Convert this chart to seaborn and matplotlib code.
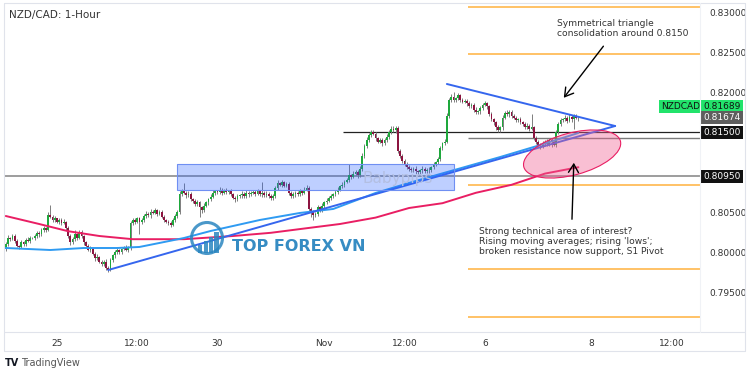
import numpy as np
import pandas as pd
import matplotlib
matplotlib.use("Agg")
import matplotlib.pyplot as plt
import matplotlib.patches as mpatches
import matplotlib.transforms as mtransforms
from matplotlib.lines import Line2D
import seaborn as sns

# NZD/CAD hourly closes, in 1/10000
closes = [
    8010, 8018, 8016, 8020, 8014, 8008, 8006, 8012, 8010, 8015, 8014, 8018, 8017, 8020, 8024, 8022, 8027, 8030, 8028, 8046,
    8044, 8040, 8042, 8038, 8040, 8036, 8038, 8030, 8020, 8012, 8016, 8022, 8018, 8025, 8020, 8012, 8008, 8003, 8004, 7998,
    7992, 7994, 7988, 7985, 7988, 7980, 7978, 7990, 7996, 8000, 8002, 8000, 8004, 8006, 8003, 8005, 8036, 8040, 8038, 8042,
    8037, 8040, 8045, 8048, 8046, 8050, 8049, 8052, 8048, 8050, 8044, 8040, 8038, 8036, 8034, 8040, 8045, 8050, 8072, 8076,
    8074, 8071, 8073, 8066, 8064, 8060, 8062, 8056, 8052, 8058, 8062, 8066, 8069, 8074, 8076, 8075, 8078, 8074, 8077, 8075,
    8076, 8072, 8068, 8066, 8070, 8071, 8073, 8070, 8074, 8072, 8074, 8075, 8073, 8076, 8072, 8074, 8071, 8073, 8070, 8067,
    8070, 8080, 8086, 8084, 8087, 8083, 8085, 8074, 8070, 8072, 8074, 8072, 8076, 8074, 8078, 8080, 8054, 8050, 8046, 8048,
    8056, 8052, 8058, 8062, 8064, 8068, 8070, 8072, 8075, 8078, 8082, 8084, 8088, 8090, 8096, 8094, 8098, 8100, 8096, 8104,
    8120, 8132, 8140, 8146, 8150, 8148, 8142, 8138, 8140, 8136, 8140, 8144, 8150, 8154, 8152, 8155, 8126, 8120, 8114, 8110,
    8106, 8104, 8102, 8104, 8101, 8100, 8102, 8104, 8101, 8103, 8102, 8106, 8110, 8112, 8116, 8130, 8136, 8138, 8170, 8190,
    8194, 8190, 8192, 8196, 8190, 8188, 8189, 8186, 8182, 8184, 8178, 8175, 8176, 8180, 8184, 8186, 8182, 8172, 8166, 8162,
    8156, 8152, 8156, 8168, 8174, 8172, 8175, 8170, 8168, 8165, 8166, 8162, 8160, 8156, 8158, 8154, 8156, 8142, 8138, 8134,
    8132, 8136, 8138, 8135, 8140, 8138, 8134, 8150, 8160, 8165, 8166, 8168, 8164, 8169, 8166, 8170, 8168, 8167,
]
first_open = 8004

# wick lengths above / below the body, in pips
wick_up = [
    2, 3, 1, 2, 3, 2, 1, 3, 2, 2, 4, 2, 1, 3, 2, 2, 3, 2, 1, 4,
    13, 2, 3, 1, 2, 2, 3, 1, 2, 2, 3, 5, 2, 3, 2, 1, 2, 2, 3, 2,
    2, 3, 1, 2, 2, 3, 2, 3, 2, 2, 3, 2, 1, 2, 3, 2, 3, 2, 3, 2,
    2, 3, 2, 3, 2, 4, 2, 3, 2, 3, 2, 2, 1, 2, 3, 2, 3, 2, 4, 3,
    10, 2, 3, 2, 1, 2, 3, 2, 2, 3, 2, 2, 3, 3, 2, 2, 3, 2, 2, 3,
    2, 3, 2, 2, 3, 2, 3, 2, 3, 2, 2, 3, 2, 3, 2, 13, 2, 3, 2, 2,
    3, 2, 4, 2, 3, 2, 3, 2, 2, 3, 2, 2, 3, 2, 3, 4, 2, 2, 3, 2,
    3, 2, 3, 2, 3, 2, 3, 2, 2, 3, 2, 3, 2, 3, 14, 2, 3, 2, 3, 3,
    4, 3, 4, 3, 2, 3, 2, 2, 3, 2, 2, 3, 2, 4, 3, 2, 2, 3, 2, 2,
    2, 3, 2, 2, 3, 2, 2, 3, 2, 2, 3, 2, 3, 2, 3, 3, 2, 3, 4, 3,
    3, 6, 2, 3, 2, 3, 2, 2, 3, 2, 2, 3, 2, 3, 2, 3, 2, 2, 3, 2,
    2, 3, 2, 3, 2, 3, 2, 2, 3, 2, 2, 3, 2, 2, 3, 2, 17, 2, 3, 2,
    2, 3, 2, 3, 2, 3, 2, 3, 2, 3, 2, 3, 2, 3, 2, 3, 2, 2,
]
wick_dn = [
    3, 2, 2, 1, 3, 2, 2, 1, 3, 2, 2, 3, 1, 2, 2, 3, 2, 2, 3, 2,
    2, 3, 2, 2, 3, 2, 1, 3, 2, 3, 2, 2, 3, 2, 2, 3, 2, 2, 3, 2,
    3, 2, 2, 3, 2, 2, 3, 2, 2, 3, 2, 2, 3, 2, 2, 3, 2, 2, 3, 2,
    15, 2, 3, 2, 2, 3, 2, 2, 3, 2, 2, 3, 2, 2, 3, 2, 2, 3, 2, 2,
    2, 3, 2, 2, 3, 2, 2, 12, 3, 2, 2, 3, 2, 2, 3, 2, 2, 3, 2, 2,
    3, 2, 2, 3, 2, 2, 3, 2, 2, 3, 2, 2, 3, 2, 2, 3, 2, 2, 3, 2,
    2, 3, 2, 2, 3, 2, 2, 3, 2, 2, 3, 2, 2, 3, 2, 2, 3, 6, 6, 2,
    3, 2, 2, 3, 2, 2, 3, 2, 2, 3, 2, 2, 3, 2, 2, 3, 2, 2, 3, 2,
    3, 2, 2, 3, 2, 2, 3, 2, 2, 3, 2, 2, 3, 2, 2, 3, 2, 2, 3, 2,
    2, 3, 2, 2, 3, 2, 2, 3, 2, 2, 3, 2, 2, 3, 2, 2, 3, 2, 2, 3,
    2, 3, 2, 2, 3, 2, 2, 3, 2, 2, 3, 2, 2, 3, 2, 2, 3, 2, 2, 3,
    3, 2, 2, 3, 2, 2, 3, 2, 2, 3, 2, 2, 3, 2, 2, 3, 2, 2, 3, 2,
    3, 2, 3, 2, 3, 7, 2, 3, 2, 3, 2, 2, 3, 2, 3, 12, 2, 3,
]

# moving averages (sampled along the curves)
ma_fast_bars = [0, 20, 35, 50, 60, 69, 80, 92, 102, 114, 132, 147, 166, 181, 195, 222, 240, 257]
ma_fast_vals = [0.80050, 0.80025, 0.80050, 0.80050, 0.80063, 0.80113, 0.80175, 0.80263, 0.80325,
                0.80400, 0.80488, 0.80538, 0.80738, 0.80863, 0.80975, 0.81188, 0.81338, 0.81488]
ma_slow_bars = [0, 15, 28, 42, 57, 80, 102, 119, 133, 150, 166, 181, 196, 211, 227, 242, 257]
ma_slow_vals = [0.8045, 0.8035, 0.8026, 0.8020, 0.8016, 0.8016, 0.8020, 0.8024, 0.8029,
                0.8035, 0.8043, 0.8055, 0.8061, 0.8074, 0.8084, 0.8098, 0.8106]

# drawn trendlines (bar, price endpoints)
support_bars = [46, 273.5]
support_vals = [0.79775, 0.81575]
resist_bars = [198, 273.5]
resist_vals = [0.8210, 0.81575]

# levels
pivot_levels = [0.8306, 0.8248, 0.8084, 0.7979, 0.7919]
pivot_mid = 0.81425
level_8150 = 0.8150
level_8095 = 0.8095
zone_bars = [77, 201]
zone_vals = [0.80775, 0.8110]

tick_bars = [23, 59, 95, 143, 179, 215, 263, 299]
tick_labels = ['25', '12:00', '30', 'Nov', '12:00', '6', '8', '12:00']
price_ticks = [0.795, 0.800, 0.805, 0.820, 0.825, 0.830]
last_price = 0.81674
bid_price = 0.81689

sns.set_theme(style='white')
plt.rcParams['font.family'] = ['DejaVu Sans']

W, H = 750, 375
fig = plt.figure(figsize=(7.5, 3.75), dpi=100)
fig.patch.set_facecolor('white')
ax = fig.add_axes([4 / W, 43 / H, 696 / W, 329 / H])
ax.set_facecolor('white')
for s in ax.spines.values():
    s.set_visible(False)

x_max = 311.6
ax.set_xlim(-0.785, x_max)
ax.set_ylim(0.79, 0.831125)

# candles
c = np.array(closes) / 10000
o = np.concatenate([[first_open / 10000], c[:-1]])
hi = np.maximum(o, c) + np.array(wick_up) / 10000
lo = np.minimum(o, c) - np.array(wick_dn) / 10000
xs = np.arange(len(c))
body_col = np.where(c >= o, '#1ea83c', '#8c1440')
ax.vlines(xs, lo, hi, color='#7d7d7d', lw=0.7, zorder=3)
ax.bar(xs, np.maximum(np.abs(c - o), 0.00004), bottom=np.minimum(o, c), width=0.8,
       color=body_col, linewidth=0, zorder=4)

# horizontal levels
ax.hlines(level_8095, -0.785, x_max, color='#8c8c8c', lw=1.2, zorder=2)
ax.hlines(pivot_levels, 207.6, x_max, color='#ffb74d', lw=1.2, zorder=2)
ax.hlines(pivot_mid, 207.6, x_max, color='#7a7a7a', lw=1.0, zorder=2)
ax.hlines(level_8150, 151.4, x_max, color='#222222', lw=0.9, zorder=2)

# moving averages and trendlines
ma_slow = pd.DataFrame({'bar': ma_slow_bars, 'val': ma_slow_vals})
ma_fast = pd.DataFrame({'bar': ma_fast_bars, 'val': ma_fast_vals})
sns.lineplot(data=ma_slow, x='bar', y='val', ax=ax, color='#e91e63', lw=1.4, zorder=5)
sns.lineplot(data=ma_fast, x='bar', y='val', ax=ax, color='#2f9bf2', lw=1.4, zorder=5)
ax.plot(support_bars, support_vals, color='#3566ee', lw=1.4, zorder=6)
ax.plot(resist_bars, resist_vals, color='#3566ee', lw=1.4, zorder=6)

# zone box
ax.add_patch(mpatches.Rectangle((zone_bars[0], zone_vals[0]), zone_bars[1] - zone_bars[0],
                                zone_vals[1] - zone_vals[0], facecolor='#2962ff', alpha=0.3,
                                edgecolor='none', zorder=7))
ax.add_patch(mpatches.Rectangle((zone_bars[0], zone_vals[0]), zone_bars[1] - zone_bars[0],
                                zone_vals[1] - zone_vals[0], facecolor='none',
                                edgecolor='#6f8ff2', lw=0.8, zorder=7))
ax.text(176, 0.80925, 'Babypips', fontsize=11, color='#b3bfe2', ha='center', va='center', zorder=7)

# ellipse around the support area
etr = fig.dpi_scale_trans + mtransforms.ScaledTranslation(254.2, 0.81225, ax.transData)
ax.add_patch(mpatches.Ellipse((0, 0), 1.0, 0.42, angle=15, transform=etr,
                              facecolor=(0.94, 0.38, 0.57, 0.4), edgecolor='#e91e63', lw=0.8, zorder=8))

# annotations
arrow = dict(arrowstyle='->,head_length=0.5,head_width=0.3', color='black', lw=1.0)
ax.annotate('', xy=(249.7, 0.8190), xytext=(269.0, 0.8260), arrowprops=arrow, zorder=9)
ax.annotate('', xy=(255.0, 0.8115), xytext=(254.1, 0.80375), arrowprops=arrow, zorder=9)
ax.text(247.4, 0.8291, 'Symmetrical triangle\nconsolidation around 0.8150', fontsize=6.6,
        color='#333333', ha='left', va='top', linespacing=1.15, zorder=9)
ax.text(212.4, 0.80315, "Strong technical area of interest?\nRising moving averages; rising 'lows';\n"
        "broken resistance now support, S1 Pivot", fontsize=6.6, color='#333333',
        ha='left', va='top', linespacing=1.15, zorder=9)

# axes ticks
ax.yaxis.tick_right()
ax.set_yticks(price_ticks, [f'{p:.5f}' for p in price_ticks])
ax.set_xticks(tick_bars, tick_labels)
ax.tick_params(axis='y', length=0, pad=7, labelsize=6.5, labelcolor='#333333')
ax.tick_params(axis='x', length=0, pad=5, labelsize=6.5, labelcolor='#333333')
ax.set_xlabel('')
ax.set_ylabel('')
ax.grid(False)

# right-hand price labels
bt = mtransforms.blended_transform_factory(ax.transAxes, ax.transData)
def price_box(y, txt, fc, tc, xa=1.0315):
    ax.text(xa, y, txt, transform=bt, fontsize=6.5, color=tc, ha='center', va='center',
            bbox=dict(boxstyle='square,pad=0.22', fc=fc, ec='none'), zorder=20, clip_on=False)

price_box(0.81819, f'{bid_price:.5f}', '#22e36b', '#111111')
price_box(0.81819, 'NZDCAD', '#22e36b', '#111111', xa=0.972)
price_box(0.81681, f'{last_price:.5f}', '#5e5e5e', 'white')
price_box(level_8150 - 0.00006, f'{level_8150:.5f}', '#111111', 'white')
price_box(level_8095 - 0.00012, f'{level_8095:.5f}', '#111111', 'white')

# frame lines (figure pixels)
def fline(x0, y0, x1, y1, col='#e0e3eb'):
    fig.add_artist(Line2D([x0 / W, x1 / W], [1 - y0 / H, 1 - y1 / H], color=col, lw=0.8,
                          transform=fig.transFigure))

fline(4, 3, 745, 3)
fline(4, 3, 4, 351)
fline(745, 3, 745, 351)
fline(4, 351, 745, 351)
fline(4, 332, 745, 332)
fline(700, 3, 700, 332, col='#f0f2f6')

# title and branding
fig.text(9 / W, 1 - 15 / H, 'NZD/CAD: 1-Hour', fontsize=7.5, color='#333333', va='center')
fig.text(5 / W, 1 - 363 / H, 'TV', fontsize=7, fontweight='bold', color='#131722', va='center')
fig.text(21 / W, 1 - 363 / H, 'TradingView', fontsize=7, color='#555555', va='center')

# TOP FOREX VN watermark
logo_c = '#2b86c0'
fig.add_artist(mpatches.Ellipse((207 / W, 1 - 238 / H), 31 / W, 31 / H, transform=fig.transFigure,
                                facecolor='none', edgecolor=logo_c, lw=2.2, alpha=0.85))
for bx, bh in zip([198, 203.5, 209, 214.5], [8, 12, 16, 21]):
    fig.add_artist(mpatches.Rectangle((bx / W, 1 - 253 / H), 4 / W, bh / H, transform=fig.transFigure,
                                      facecolor=logo_c, edgecolor='none', alpha=0.85))
fig.text(232 / W, 1 - 247 / H, 'TOP FOREX VN', fontsize=11.5, fontweight='bold', color=logo_c,
         va='center', alpha=0.95)

fig.savefig('out.png', dpi=100)
